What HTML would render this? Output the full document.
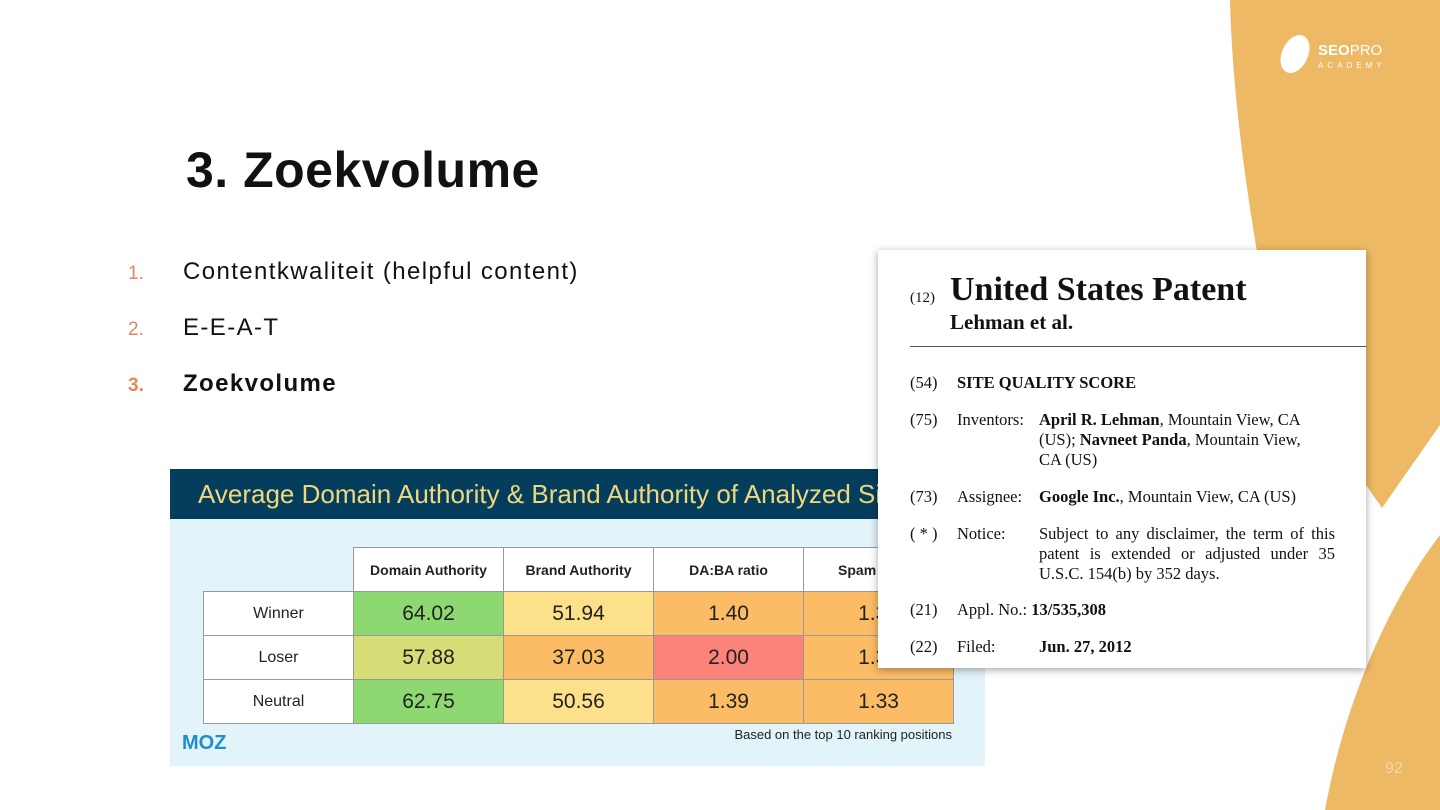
<!DOCTYPE html>
<html><head><meta charset="utf-8"><style>
body{margin:0;width:1440px;height:810px;position:relative;overflow:hidden;background:#fff;font-family:"Liberation Sans",sans-serif}
.abs{position:absolute}
.li{position:absolute;font-size:24px;color:#111;letter-spacing:1.4px}
.num{position:absolute;left:128px;font-size:19px;color:#e8825f}
table{border-collapse:collapse;position:absolute;left:33px;top:78px;font-family:"Liberation Sans",sans-serif;table-layout:fixed}
td{width:150px;height:44px;padding:0;box-sizing:border-box;border:1px solid #999;text-align:center;font-size:21px;color:#222}
td.h{font-size:14px;font-weight:bold;background:#fff}
td.r{font-size:16px;background:#fff}
.g{background:#8ed872}.y{background:#fde08a}.o{background:#fcbc66}.l{background:#d6dc76}.red{background:#fb837a}
.pat{font-family:"Liberation Serif",serif;color:#111}
.pat .row{position:absolute;font-size:16.5px;line-height:20px}
</style></head><body>
<svg class="abs" style="left:0;top:0" width="1440" height="810">
<path d="M1230 0 L1440 0 L1440 425 L1382 508 C1320 420 1270 330 1255 240 C1242 160 1232 80 1230 0 Z" fill="#edb964"/>
<path d="M1440 535 C1390 600 1345 700 1325 810 L1440 810 Z" fill="#edb964"/>
<g transform="translate(1278,33)"><ellipse cx="17" cy="21" rx="13" ry="20" fill="#fff" transform="rotate(25 17 21)"/></g>
<text x="1318" y="55" font-family="Liberation Sans" font-weight="bold" font-size="15" fill="#fff">SEO<tspan font-weight="normal">PRO</tspan></text>
<text x="1318" y="68" font-family="Liberation Sans" font-size="8" letter-spacing="4" fill="#fff">ACADEMY</text>
<text x="1385" y="773" font-family="Liberation Sans" font-size="16" fill="#f6d9a6">92</text>
</svg>
<div class="abs" style="left:186px;top:141px;font-size:50px;font-weight:bold;color:#111;letter-spacing:0.5px">3. Zoekvolume</div>
<div class="num" style="top:263px">1.</div><div class="li" style="left:183px;top:258px">Contentkwaliteit (helpful content)</div>
<div class="num" style="top:319px">2.</div><div class="li" style="left:183px;top:314px">E-E-A-T</div>
<div class="num" style="top:375px;font-weight:bold">3.</div><div class="li" style="left:183px;top:370px;font-weight:bold">Zoekvolume</div>

<div class="abs" style="left:170px;top:469px;width:815px;height:297px;background:#e2f3fa">
<div style="height:50px;background:#053e5c;color:#f0d77e;font-size:26px;line-height:50px;padding-left:28px;white-space:nowrap;overflow:hidden">Average Domain Authority &amp; Brand Authority of Analyzed Sites</div>
<table>
<tr><td style="border:none;background:none"></td><td class="h">Domain Authority</td><td class="h">Brand Authority</td><td class="h">DA:BA ratio</td><td class="h">Spam Score</td></tr>
<tr><td class="r">Winner</td><td class="g">64.02</td><td class="y">51.94</td><td class="o">1.40</td><td class="o">1.33</td></tr>
<tr><td class="r">Loser</td><td class="l">57.88</td><td class="o">37.03</td><td class="red">2.00</td><td class="o">1.33</td></tr>
<tr><td class="r">Neutral</td><td class="g">62.75</td><td class="y">50.56</td><td class="o">1.39</td><td class="o">1.33</td></tr>
</table>
<div class="abs" style="left:12px;top:263px;font-size:20px;font-weight:bold;color:#1e8fc9">MOZ</div>
<div class="abs" style="right:33px;top:258px;font-size:13px;color:#222">Based on the top 10 ranking positions</div>
</div>

<div class="abs pat" style="left:878px;top:250px;width:488px;height:418px;background:#fff;box-shadow:0 2px 8px rgba(0,0,0,.35)">
<div class="row" style="left:32px;top:38px;font-size:15px">(12)</div>
<div class="abs" style="left:72px;top:21px;font-size:34px;font-weight:bold">United States Patent</div>
<div class="abs" style="left:72px;top:60px;font-size:21px;font-weight:bold">Lehman et al.</div>
<div class="abs" style="left:32px;top:96px;width:456px;border-top:1.5px solid #555"></div>
<div class="row" style="left:32px;top:123px">(54)</div><div class="row" style="left:79px;top:123px;font-weight:bold">SITE QUALITY SCORE</div>
<div class="row" style="left:32px;top:160px">(75)</div><div class="row" style="left:79px;top:160px">Inventors:</div>
<div class="row" style="left:161px;top:160px;width:300px"><b>April R. Lehman</b>, Mountain View, CA<br>(US); <b>Navneet Panda</b>, Mountain View,<br>CA (US)</div>
<div class="row" style="left:32px;top:237px">(73)</div><div class="row" style="left:79px;top:237px">Assignee:</div>
<div class="row" style="left:161px;top:237px"><b>Google Inc.</b>, Mountain View, CA (US)</div>
<div class="row" style="left:32px;top:274px">( * )</div><div class="row" style="left:79px;top:274px">Notice:</div>
<div class="row" style="left:161px;top:274px;width:296px;text-align:justify">Subject to any disclaimer, the term of this patent is extended or adjusted under 35 U.S.C. 154(b) by 352 days.</div>
<div class="row" style="left:32px;top:350px">(21)</div><div class="row" style="left:79px;top:350px">Appl. No.: <b>13/535,308</b></div>
<div class="row" style="left:32px;top:387px">(22)</div><div class="row" style="left:79px;top:387px">Filed:</div>
<div class="row" style="left:161px;top:387px;font-weight:bold">Jun. 27, 2012</div>
</div>
</body></html>
